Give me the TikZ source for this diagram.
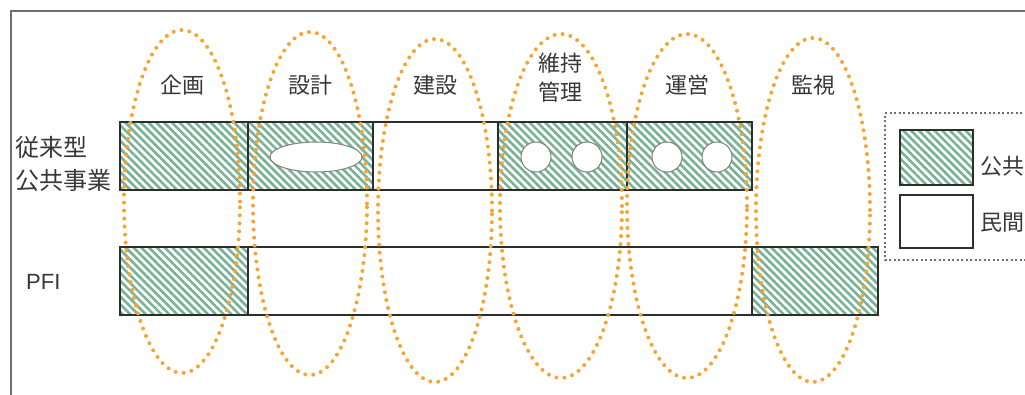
\documentclass[tikz,border=0pt]{standalone}
\usepackage{fontspec}
\setmainfont{Liberation Sans}
\newfontfamily\jp{Noto Sans CJK JP}
\usetikzlibrary{patterns.meta}
\definecolor{hatchgreen}{RGB}{120,178,148}
\definecolor{dotorange}{RGB}{248,164,48}
\definecolor{boxline}{RGB}{45,45,45}
\definecolor{txt}{RGB}{55,55,55}
\definecolor{framegray}{RGB}{110,110,110}
\tikzset{
  seg/.style={rectangle,draw=boxline,line width=2.4pt,inner sep=0pt,fill=white},
  hatched/.style={seg,preaction={fill=white},pattern={Lines[angle=-45,distance=5.5pt,line width=2.6pt]},pattern color=hatchgreen},
  hole/.style={draw=gray,line width=1pt,fill=white},
  phase/.style={draw=dotorange,line width=4pt,line cap=round,dash pattern=on 0pt off 8pt},
  collabel/.style={font=\jp\fontsize{22}{27}\selectfont,text=txt,inner sep=0pt},
  rowlabel/.style={font=\jp\fontsize{24}{28}\selectfont,text=txt,inner sep=0pt,anchor=west},
}
\begin{document}
\begin{tikzpicture}[x=1pt,y=1pt]
\useasboundingbox (0,0) rectangle (1025,-394);
\clip (0,0) rectangle (1025,-394);
% frame
\draw[framegray,line width=1.3pt] (11,-400) -- (11,-11) -- (1040,-11);
% row 1
\node[hatched,minimum width=128pt,minimum height=68pt] (a1) at (184,-156) {};
\node[hatched,minimum width=125pt,minimum height=68pt] (a2) at (310.5,-156) {};
\node[seg,minimum width=125pt,minimum height=68pt] (a3) at (435.5,-156) {};
\node[hatched,minimum width=129pt,minimum height=68pt] (a4) at (562.5,-156) {};
\node[hatched,minimum width=125pt,minimum height=68pt] (a5) at (689.5,-156) {};
% holes
\draw[hole] (316,-157) ellipse (46 and 15);
\draw[hole] (536,-157) circle (15);
\draw[hole] (587,-157) circle (15);
\draw[hole] (667,-157) circle (15);
\draw[hole] (717,-157) circle (15);
% row 2
\node[hatched,minimum width=128pt,minimum height=68pt] (b1) at (184,-281) {};
\node[seg,minimum width=504pt,minimum height=68pt] (b2) at (500,-281) {};
\node[hatched,minimum width=126pt,minimum height=68pt] (b3) at (815,-281) {};
% phase ellipses
\draw[phase] (182,-201.5) ellipse (58 and 171.5);
\draw[phase] (310,-203.5) ellipse (57 and 171.5);
\draw[phase] (435,-210.5) ellipse (57 and 171.5);
\draw[phase] (561,-206) ellipse (61 and 172);
\draw[phase] (687,-206) ellipse (60 and 172);
\draw[phase] (813,-210) ellipse (57 and 172);
% column labels
\node[collabel] (c1) at (182,-85) {企画};
\node[collabel] (c2) at (310,-85) {設計};
\node[collabel] (c3) at (435,-85) {建設};
\node[collabel] (c4a) at (560,-63) {維持};
\node[collabel] (c4b) at (560,-92) {管理};
\node[collabel] (c5) at (687,-85) {運営};
\node[collabel] (c6) at (813,-85) {監視};
% row labels
\node[rowlabel] (r1a) at (15,-147) {従来型};
\node[rowlabel] (r1b) at (15,-180) {公共事業};
\node[rowlabel,font=\fontsize{22}{26}\selectfont] (r2) at (26,-282) {PFI};
% legend
\draw[framegray,line width=1.2pt,dash pattern=on 2pt off 2.5pt] (1040,-113) -- (885,-113) -- (885,-260) -- (1040,-260);
\node[hatched,minimum width=73pt,minimum height=55pt] (lh) at (936.5,-157.5) {};
\node[seg,minimum width=73pt,minimum height=53pt] (lw) at (936.5,-221.5) {};
\node[rowlabel,font=\jp\fontsize{22}{27}\selectfont] (lht) at (980,-166) {公共};
\node[rowlabel,font=\jp\fontsize{22}{27}\selectfont] (lwt) at (980,-223) {民間};
\end{tikzpicture}
\end{document}
